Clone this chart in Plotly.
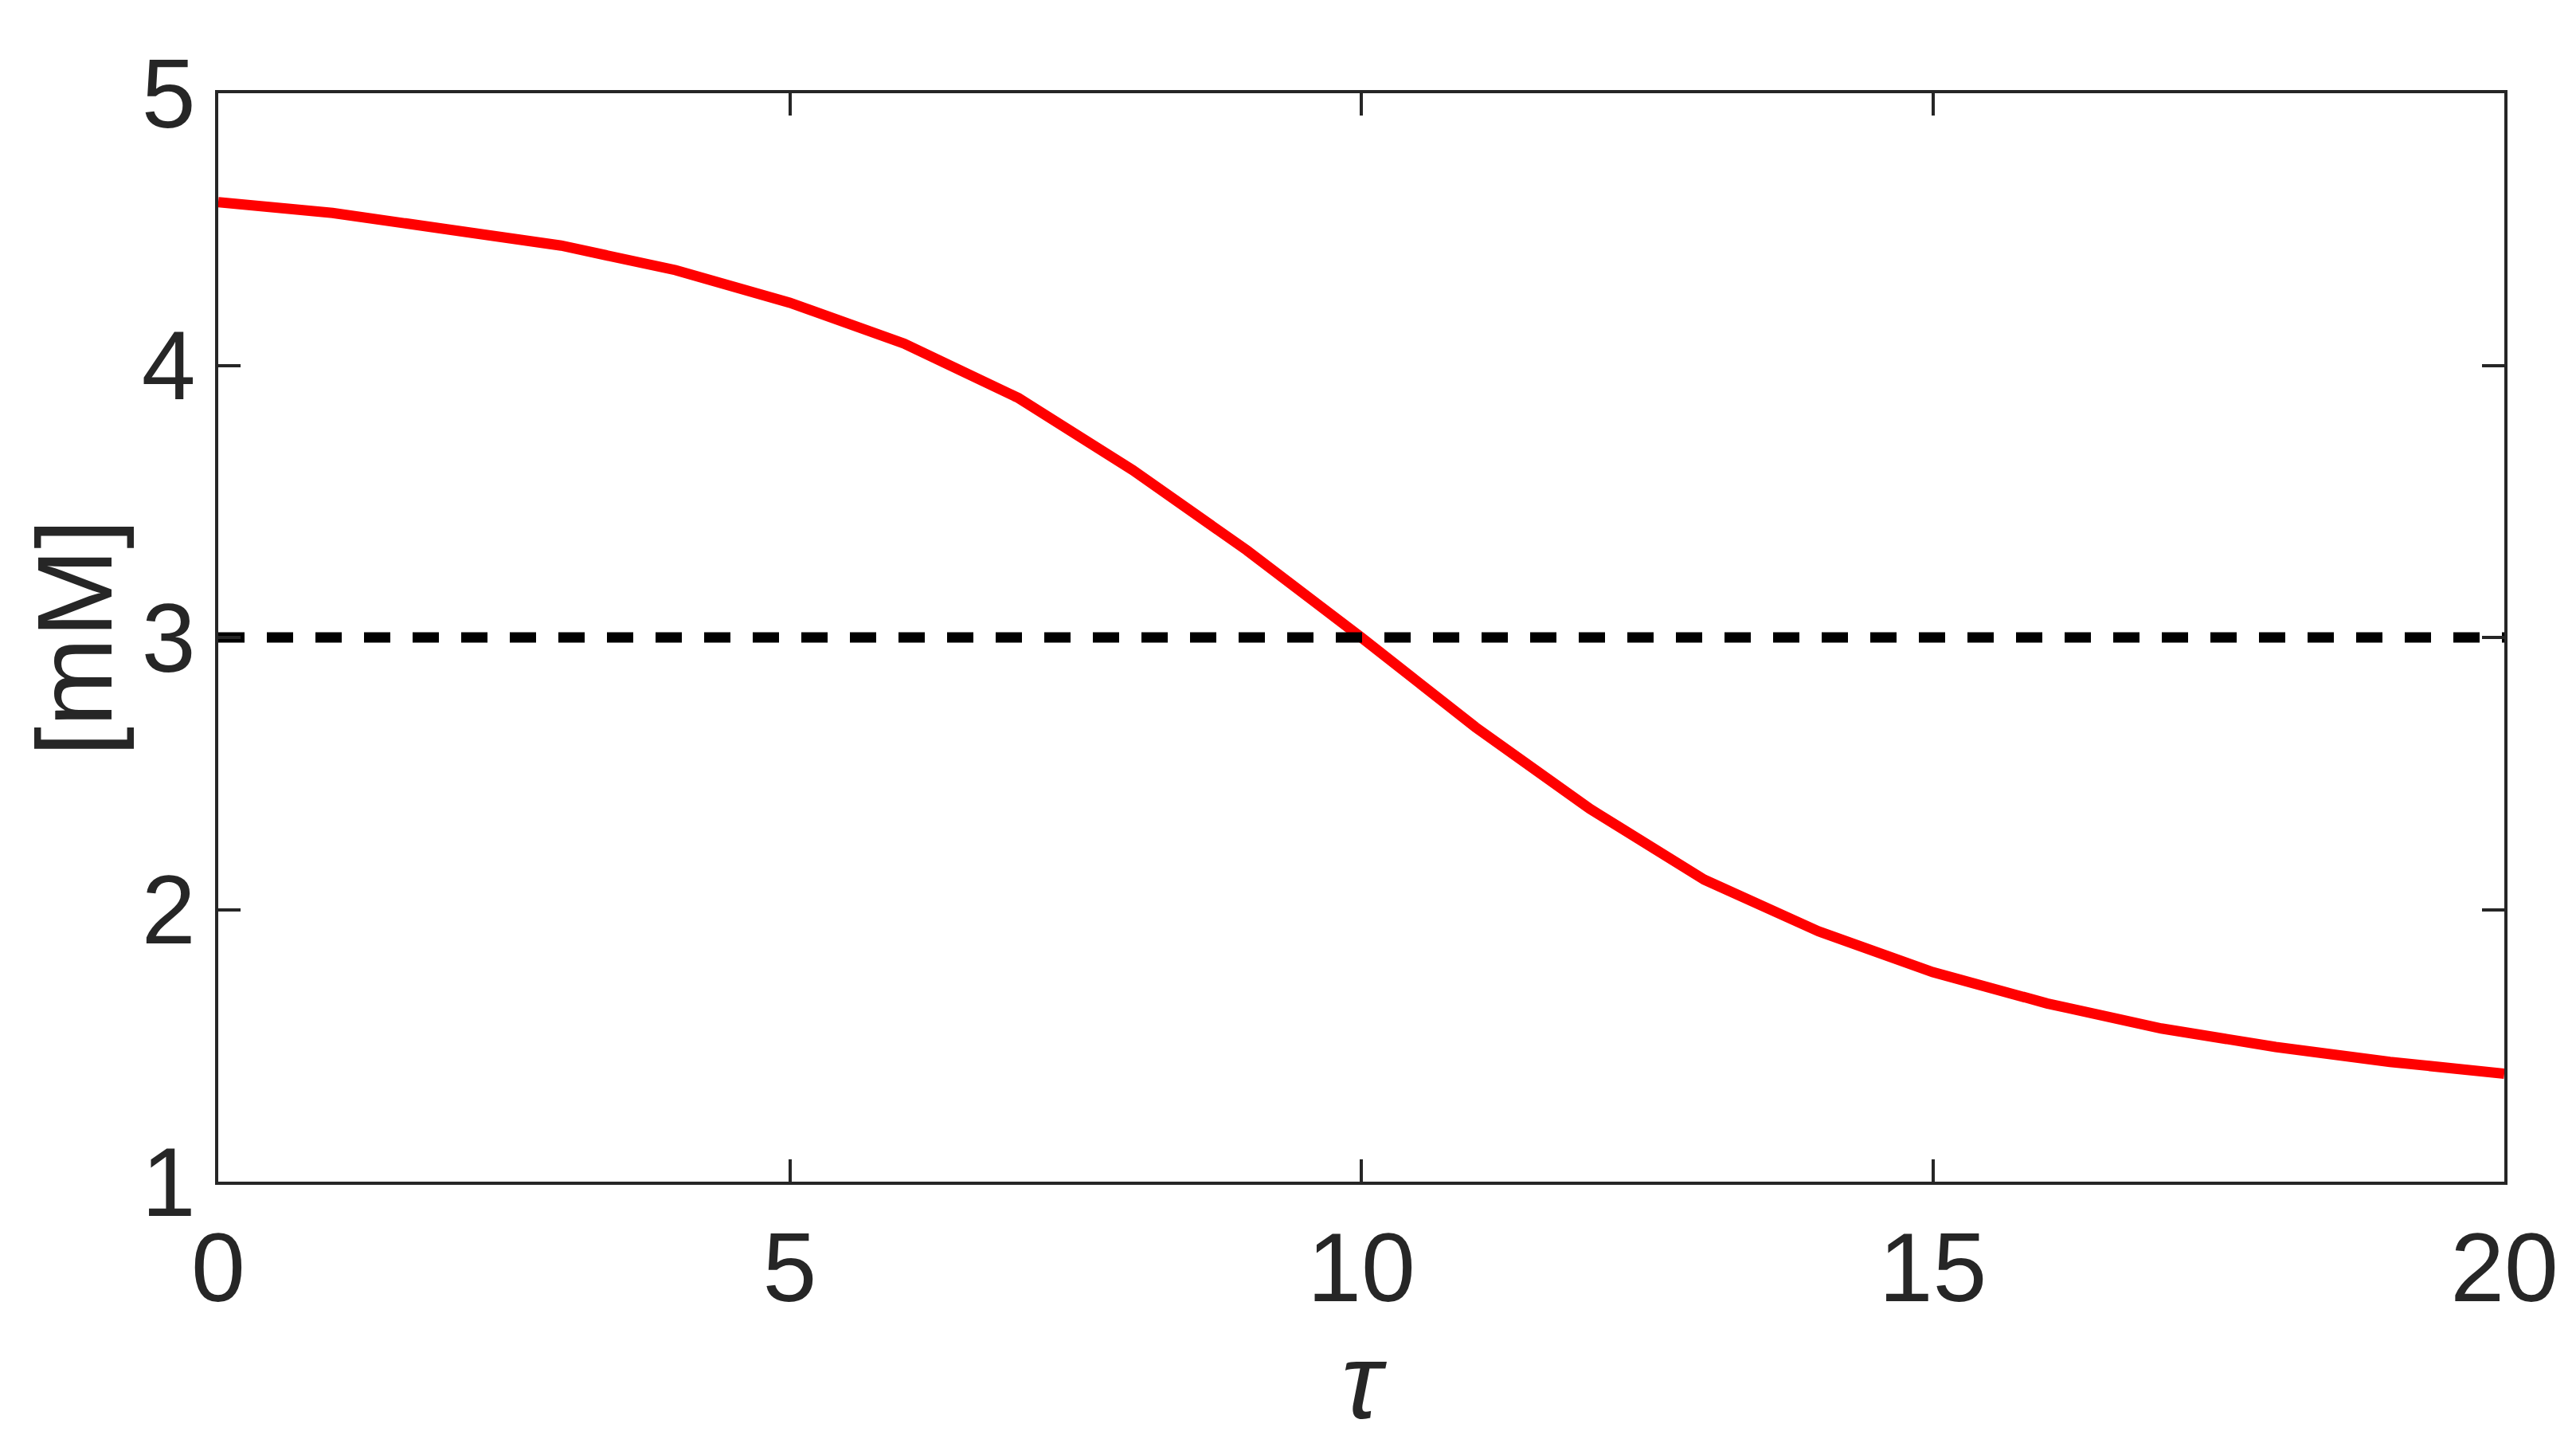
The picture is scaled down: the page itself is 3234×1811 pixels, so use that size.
import plotly.graph_objects as go

# Datos
tau = list(range(0, 21))
concentracion = [4.60, 4.56, 4.50, 4.44, 4.35, 4.23, 4.08, 3.88, 3.615, 3.32,
                 3.00, 2.67, 2.37, 2.11, 1.92, 1.77, 1.655, 1.563, 1.495, 1.44, 1.397]
umbral_x = [0, 20]
umbral_y = [3, 3]

x_ticks = [0, 5, 10, 15, 20]
y_ticks = [1, 2, 3, 4, 5]

TEXT = "#262626"
FONT = "Liberation Sans, Arial, Helvetica, sans-serif"

fig = go.Figure()

# Curva roja
fig.add_trace(go.Scatter(
    x=tau, y=concentracion, mode="lines",
    line=dict(color="#FF0000", width=13),
    showlegend=False
))

# Umbral discontinuo
fig.add_trace(go.Scatter(
    x=umbral_x, y=umbral_y, mode="lines",
    line=dict(color="#000000", width=13, dash="33px,28px"),
    showlegend=False
))

axis_common = dict(
    showline=True, linecolor=TEXT, linewidth=4, mirror="ticks",
    ticks="inside", ticklen=28, tickwidth=4, tickcolor=TEXT,
    showgrid=False, zeroline=False,
    tickfont=dict(family=FONT, size=122, color=TEXT),
)

fig.update_xaxes(
    range=[0, 20], tickvals=x_ticks,
    title=dict(text="<i>τ</i>", font=dict(family=FONT, size=134, color=TEXT), standoff=18),
    **axis_common
)
fig.update_yaxes(range=[1, 5], tickvals=y_ticks, **axis_common)

# Etiqueta del eje Y como anotación para colocarla con precisión
fig.add_annotation(
    text="[mM]", xref="paper", yref="paper", x=-0.063, y=0.5,
    xanchor="center", yanchor="middle", textangle=-90, showarrow=False,
    font=dict(family=FONT, size=134, color=TEXT)
)

# la página añade 8px de margen al body, se compensa aquí
fig.update_layout(
    width=3234, height=1811,
    margin=dict(l=266, r=98, t=109, b=336, pad=0),
    plot_bgcolor="white", paper_bgcolor="white",
    font=dict(family=FONT, color=TEXT),
)

fig.write_html("out.html")
